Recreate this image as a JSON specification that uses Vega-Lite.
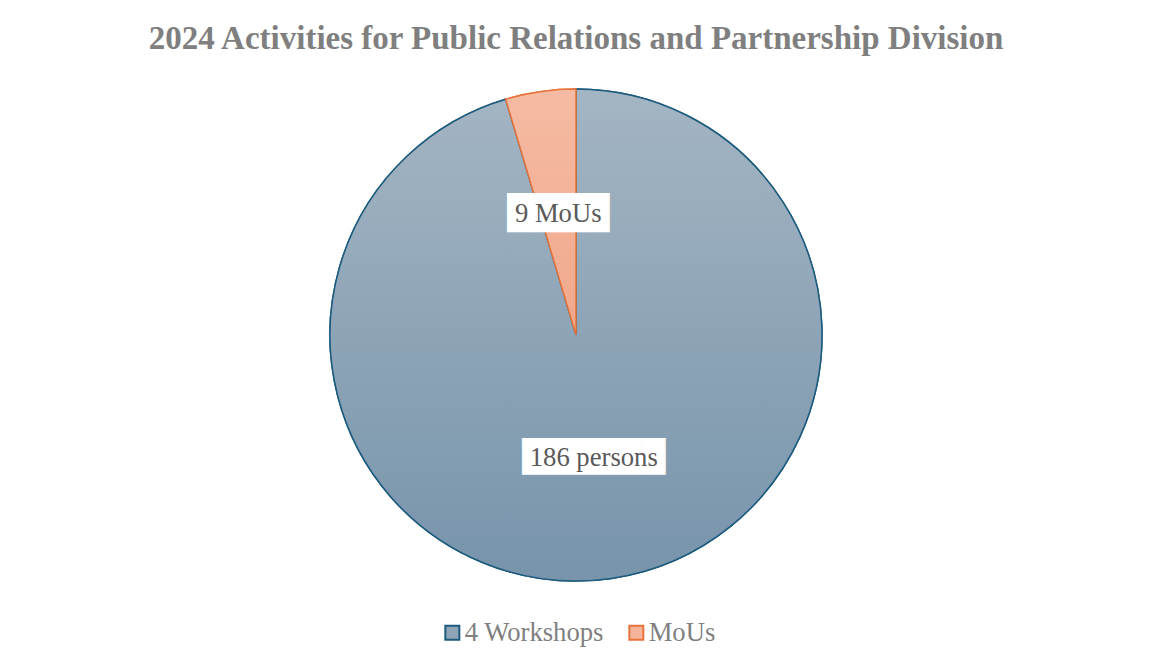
{
  "$schema": "https://vega.github.io/schema/vega-lite/v6.json",
  "autosize": "none",
  "width": 1152,
  "height": 670,
  "padding": 0,
  "background": "white",
  "title": {
    "text": "2024 Activities for Public Relations and Partnership Division",
    "frame": "group",
    "anchor": "middle",
    "offset": -81.5,
    "baseline": "alphabetic",
    "font": "Liberation Serif",
    "fontSize": 33,
    "fontWeight": "bold",
    "color": "#7f7f7f"
  },
  "data": {
    "values": [
      {"category": "4 Workshops", "value": 186, "label": "186 persons"},
      {"category": "MoUs", "value": 9, "label": "9 MoUs"}
    ]
  },
  "encoding": {
    "theta": {"field": "value", "type": "quantitative", "stack": true}
  },
  "layer": [
    {
      "mark": {"type": "arc", "outerRadius": 246, "strokeWidth": 1.5},
      "encoding": {
        "fill": {
          "field": "category",
          "type": "nominal",
          "scale": {"domain": ["4 Workshops", "MoUs"], "range": ["#8fa4b7", "#f4b39b"]},
          "legend": {
            "title": null,
            "orient": "none",
            "direction": "horizontal",
            "legendX": 439,
            "legendY": 619,
            "padding": 0,
            "symbolType": "square",
            "symbolSize": 196,
            "symbolStrokeWidth": 2,
            "symbolOpacity": 1,
            "labelFont": "Liberation Serif",
            "labelFontSize": 26.67,
            "labelColor": "#808080",
            "labelOffset": -1,
            "columnPadding": 19
          }
        },
        "stroke": {
          "field": "category",
          "type": "nominal",
          "scale": {"domain": ["4 Workshops", "MoUs"], "range": ["#1c5b7e", "#e8733a"]},
          "legend": {
            "title": null,
            "orient": "none",
            "direction": "horizontal",
            "legendX": 439,
            "legendY": 619,
            "padding": 0,
            "symbolType": "square",
            "symbolSize": 196,
            "symbolStrokeWidth": 2,
            "labelFont": "Liberation Serif",
            "labelFontSize": 26.67,
            "labelColor": "#808080",
            "labelOffset": -1,
            "columnPadding": 19
          }
        }
      }
    },
    {
      "mark": {"type": "arc", "outerRadius": 246, "strokeWidth": 1.5},
      "encoding": {
        "detail": {"field": "category", "type": "nominal"},
        "fill": {
          "condition": {
            "test": "datum.category === '4 Workshops'",
            "value": {
              "gradient": "linear",
              "x1": 0, "y1": 0, "x2": 0, "y2": 1,
              "stops": [
                {"offset": 0, "color": "#a4b5c3"},
                {"offset": 1, "color": "#7794ab"}
              ]
            }
          },
          "value": {
            "gradient": "linear",
            "x1": 0, "y1": 0, "x2": 0, "y2": 1,
            "stops": [
              {"offset": 0, "color": "#f5bba3"},
              {"offset": 1, "color": "#f0a88c"}
            ]
          }
        },
        "stroke": {
          "condition": {"test": "datum.category === '4 Workshops'", "value": "#1c5b7e"},
          "value": "#e8733a"
        }
      }
    },
    {
      "mark": {"type": "text", "radius": 123, "font": "DejaVu Sans", "fill": "white", "baseline": "middle", "align": "center", "dy": 1},
      "encoding": {
        "detail": {"field": "category", "type": "nominal"},
        "size": {
          "condition": {"test": "datum.category === 'MoUs'", "value": 33.2},
          "value": 31
        },
        "text": {
          "condition": {"test": "datum.category === 'MoUs'", "value": "████"},
          "value": "██████"
        }
      }
    },
    {
      "mark": {"type": "text", "radius": 123, "font": "Liberation Serif", "fontSize": 26.67, "fill": "#595959", "baseline": "middle", "align": "center", "dy": 1},
      "encoding": {
        "detail": {"field": "category", "type": "nominal"},
        "text": {"field": "label", "type": "nominal"}
      }
    }
  ],
  "config": {
    "view": {"stroke": "#d9d9d9", "strokeWidth": 1}
  }
}
